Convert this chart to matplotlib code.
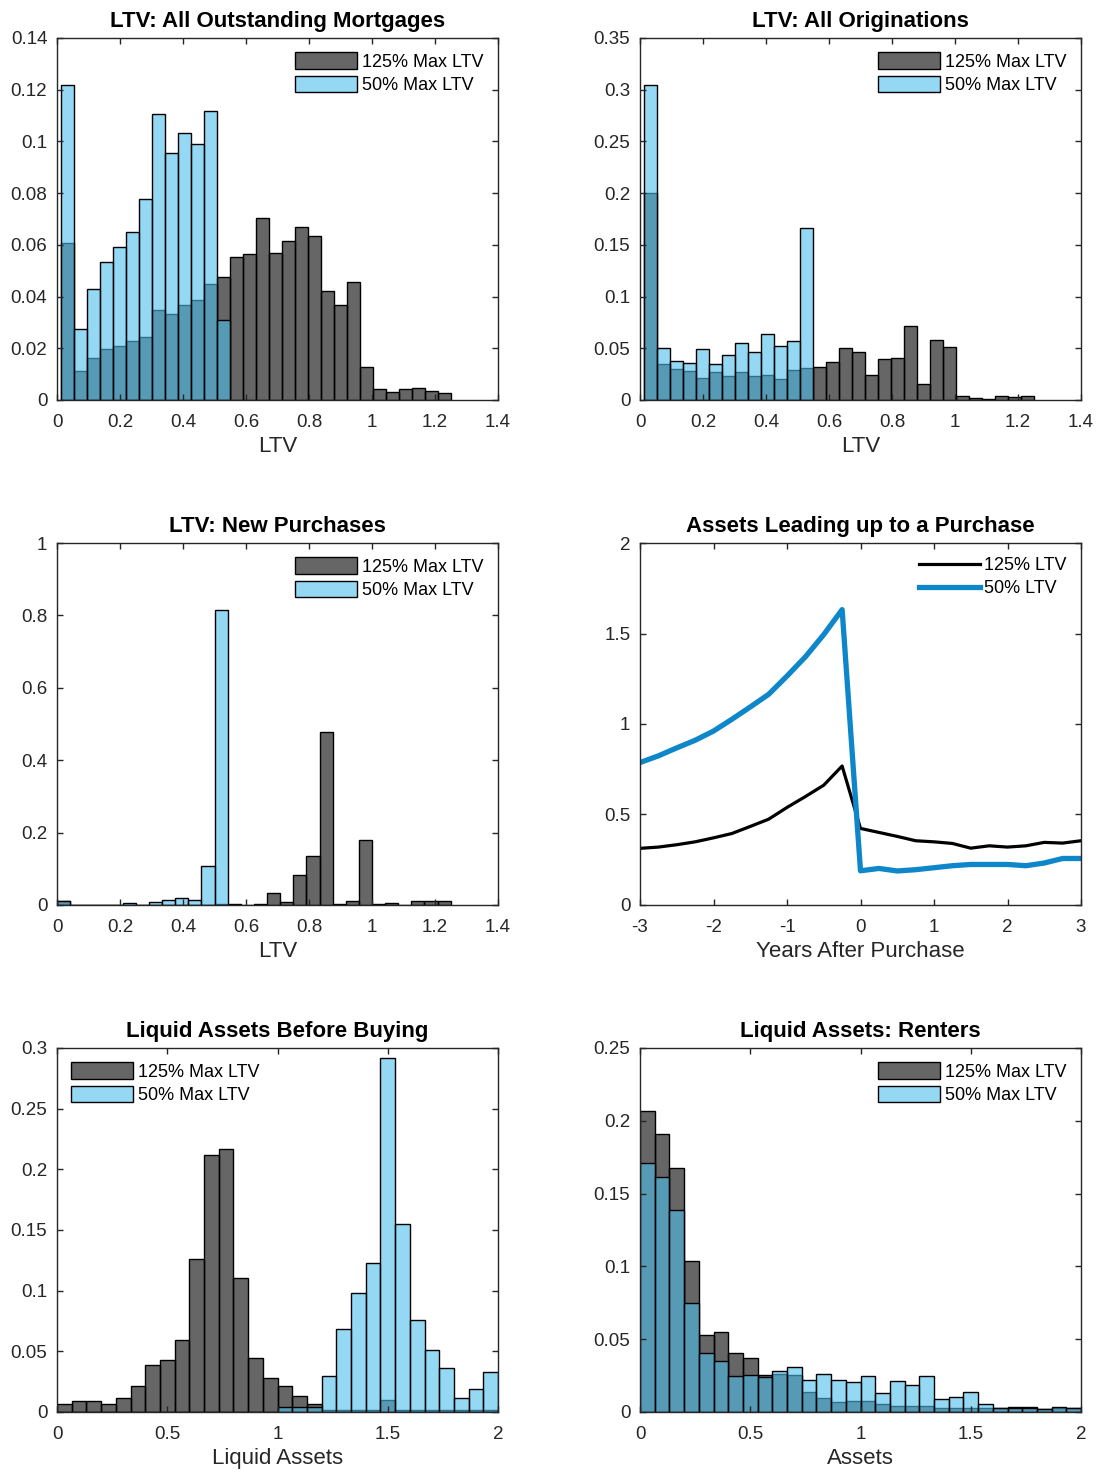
import numpy as np
import matplotlib
matplotlib.use("Agg")
import matplotlib.pyplot as plt
from matplotlib.ticker import FuncFormatter

plt.rcParams['font.family'] = ['Liberation Sans', 'DejaVu Sans']

# bins de los histogramas (30 bins cada uno)
edges_ltv = np.linspace(0.0125, 1.25, 31)
edges_new = np.linspace(0.0, 1.25, 31)
edges_assets = np.linspace(0.0, 2.0, 31)

# LTV: All Outstanding Mortgages
out_125 = [0.0606, 0.0113, 0.0162, 0.0197, 0.0210, 0.0229, 0.0245, 0.0349, 0.0332, 0.0368,
           0.0387, 0.0448, 0.0476, 0.0553, 0.0564, 0.0705, 0.0567, 0.0615, 0.0670, 0.0633,
           0.0422, 0.0368, 0.0456, 0.0129, 0.0042, 0.0030, 0.0041, 0.0045, 0.0033, 0.0026]
out_50 = [0.1220, 0.0273, 0.0429, 0.0535, 0.0591, 0.0649, 0.0777, 0.1108, 0.0956, 0.1032,
          0.0991, 0.1117, 0.0309]

# LTV: All Originations
orig_125 = [0.1997, 0.0347, 0.0302, 0.0283, 0.0212, 0.0273, 0.0228, 0.0267, 0.0235, 0.0244,
            0.0203, 0.0290, 0.0306, 0.0322, 0.0363, 0.0502, 0.0466, 0.0244, 0.0392, 0.0402,
            0.0717, 0.0154, 0.0582, 0.0511, 0.0039, 0.0019, 0.0013, 0.0039, 0.0026, 0.0042]
orig_50 = [0.3049, 0.0499, 0.0373, 0.0354, 0.0495, 0.0347, 0.0434, 0.0550, 0.0466, 0.0637,
           0.0524, 0.0573, 0.1660]

# LTV: New Purchases
new_125 = [0.011, 0.001, 0.001, 0.001, 0.001, 0.001, 0.001, 0.001, 0.001, 0.001,
           0.001, 0.001, 0.004, 0.004, 0.001, 0.004, 0.032, 0.008, 0.084, 0.134,
           0.478, 0.004, 0.012, 0.179, 0.003, 0.006, 0.001, 0.011, 0.011, 0.012]
new_50 = [0.011, 0.001, 0.001, 0.001, 0.001, 0.006, 0.001, 0.009, 0.015, 0.018,
          0.015, 0.107, 0.816]

# Assets Leading up to a Purchase
years = [-3, -2.75, -2.5, -2.25, -2, -1.75, -1.5, -1.25, -1, -0.75, -0.5, -0.25,
         0, 0.25, 0.5, 0.75, 1, 1.25, 1.5, 1.75, 2, 2.25, 2.5, 2.75, 3]
assets_125 = [0.313, 0.320, 0.333, 0.349, 0.371, 0.395, 0.434, 0.474, 0.539, 0.599, 0.662, 0.768,
              0.423, 0.401, 0.379, 0.355, 0.349, 0.340, 0.314, 0.327, 0.320, 0.327, 0.346, 0.342, 0.355]
assets_50 = [0.787, 0.824, 0.868, 0.910, 0.961, 1.026, 1.094, 1.164, 1.265, 1.371, 1.494, 1.632,
             0.189, 0.202, 0.188, 0.195, 0.206, 0.217, 0.224, 0.224, 0.224, 0.217, 0.232, 0.257, 0.257]

# Liquid Assets Before Buying
buy_125 = [0.0068, 0.0090, 0.0090, 0.0068, 0.0112, 0.0216, 0.0386, 0.0430, 0.0597, 0.1258,
           0.2120, 0.2164, 0.1107, 0.0449, 0.0282, 0.0216, 0.0132, 0.0066, 0.0020, 0.0020,
           0.0020, 0.0020, 0.0095, 0.0020, 0.0020, 0.0020, 0.0020, 0.0020, 0.0020, 0.0020]
buy_50 = [0, 0, 0, 0, 0, 0, 0, 0, 0, 0,
          0, 0, 0, 0, 0, 0.0040, 0.0040, 0.0040, 0.0293, 0.0688,
          0.0978, 0.1227, 0.2918, 0.1553, 0.0759, 0.0507, 0.0364, 0.0112, 0.0186, 0.0329]

# Liquid Assets: Renters
rent_125 = [0.2066, 0.1906, 0.1674, 0.1034, 0.0532, 0.0548, 0.0406, 0.0372, 0.0256, 0.0263,
            0.0256, 0.0139, 0.0096, 0.0068, 0.0073, 0.0073, 0.0057, 0.0041, 0.0039, 0.0039,
            0.0030, 0.0027, 0.0027, 0.0030, 0.0030, 0.0037, 0.0032, 0.0023, 0.0027, 0.0027]
rent_50 = [0.1712, 0.1616, 0.1386, 0.0747, 0.0406, 0.0347, 0.0249, 0.0253, 0.0240, 0.0279,
           0.0308, 0.0217, 0.0263, 0.0221, 0.0203, 0.0244, 0.0130, 0.0212, 0.0187, 0.0244,
           0.0091, 0.0103, 0.0137, 0.0057, 0.0027, 0.0027, 0.0027, 0.0018, 0.0032, 0.0030]

gris = (0, 0, 0, 0.6)
celeste = (0.3, 0.745, 0.93, 0.6)
eje = '#262626'
azul_linea = '#0d87c9'

fig = plt.figure(figsize=(10.99, 14.73), dpi=100)
W, H = 1099.0, 1473.0
cols = [57, 640]
rows = [(38, 400), (543, 905), (1048, 1412)]
ancho = 441


def crear_eje(col, row):
    top, bot = rows[row]
    ax = fig.add_axes([cols[col] / W, 1 - bot / H, ancho / W, (bot - top) / H])
    for s in ax.spines.values():
        s.set_color(eje)
        s.set_linewidth(1.0)
    ax.tick_params(direction='in', top=True, right=True, length=4, width=1.0,
                   colors=eje, labelsize=13.5)
    ax.tick_params(axis='x', pad=10)
    ax.tick_params(axis='y', pad=7)
    return ax


fmt = FuncFormatter(lambda v, p: ('%g' % round(v, 4)))


def histo(ax, edges, v125, v50, titulo, xlabel, xlim, xticks, ylim, yticks, loc_leg):
    edges = np.asarray(edges)
    n50 = len(v50)
    ax.bar(edges[:-1], v125, width=np.diff(edges), align='edge', color=gris,
           edgecolor='black', linewidth=1.0, label='125% Max LTV')
    ax.bar(edges[:n50], v50, width=np.diff(edges)[:n50], align='edge', color=celeste,
           edgecolor='black', linewidth=1.0, label='50% Max LTV')
    ax.set_xlim(xlim)
    ax.set_ylim(ylim)
    ax.set_xticks(xticks)
    ax.set_yticks(yticks)
    ax.xaxis.set_major_formatter(fmt)
    ax.yaxis.set_major_formatter(fmt)
    ax.set_title(titulo, fontsize=16, fontweight='bold', pad=8)
    ax.set_xlabel(xlabel, fontsize=16, color=eje, labelpad=4)
    ax.legend(loc=loc_leg, frameon=False, fontsize=13, handlelength=3.4,
              handleheight=1.0, handletextpad=0.3, labelspacing=0.3,
              borderaxespad=0.4)


ltv_ticks = [0, 0.2, 0.4, 0.6, 0.8, 1, 1.2, 1.4]

ax1 = crear_eje(0, 0)
histo(ax1, edges_ltv, out_125, out_50, 'LTV: All Outstanding Mortgages', 'LTV',
      (0, 1.4), ltv_ticks, (0, 0.14), np.arange(0, 0.141, 0.02), 'upper right')

ax2 = crear_eje(1, 0)
histo(ax2, edges_ltv, orig_125, orig_50, 'LTV: All Originations', 'LTV',
      (0, 1.4), ltv_ticks, (0, 0.35), np.arange(0, 0.351, 0.05), 'upper right')

ax3 = crear_eje(0, 1)
histo(ax3, edges_new, new_125, new_50, 'LTV: New Purchases', 'LTV',
      (0, 1.4), ltv_ticks, (0, 1), np.arange(0, 1.01, 0.2), 'upper right')

# grafico de lineas
ax4 = crear_eje(1, 1)
ax4.plot(years, assets_125, color='black', linewidth=2.3, label='125% LTV')
ax4.plot(years, assets_50, color=azul_linea, linewidth=3.8, label='50% LTV')
ax4.set_xlim(-3, 3)
ax4.set_ylim(0, 2)
ax4.set_xticks([-3, -2, -1, 0, 1, 2, 3])
ax4.set_yticks([0, 0.5, 1, 1.5, 2])
ax4.xaxis.set_major_formatter(fmt)
ax4.yaxis.set_major_formatter(fmt)
ax4.set_title('Assets Leading up to a Purchase', fontsize=16, fontweight='bold', pad=8)
ax4.set_xlabel('Years After Purchase', fontsize=16, color=eje, labelpad=4)
ax4.legend(loc='upper right', frameon=False, fontsize=13, handlelength=3.4,
           handletextpad=0.2, labelspacing=0.3, borderaxespad=0.4)

ax5 = crear_eje(0, 2)
histo(ax5, edges_assets, buy_125, buy_50, 'Liquid Assets Before Buying', 'Liquid Assets',
      (0, 2), [0, 0.5, 1, 1.5, 2], (0, 0.3), np.arange(0, 0.301, 0.05), 'upper left')

ax6 = crear_eje(1, 2)
histo(ax6, edges_assets, rent_125, rent_50, 'Liquid Assets: Renters', 'Assets',
      (0, 2), [0, 0.5, 1, 1.5, 2], (0, 0.25), np.arange(0, 0.251, 0.05), 'upper right')

plt.savefig('out.png', dpi=100)
